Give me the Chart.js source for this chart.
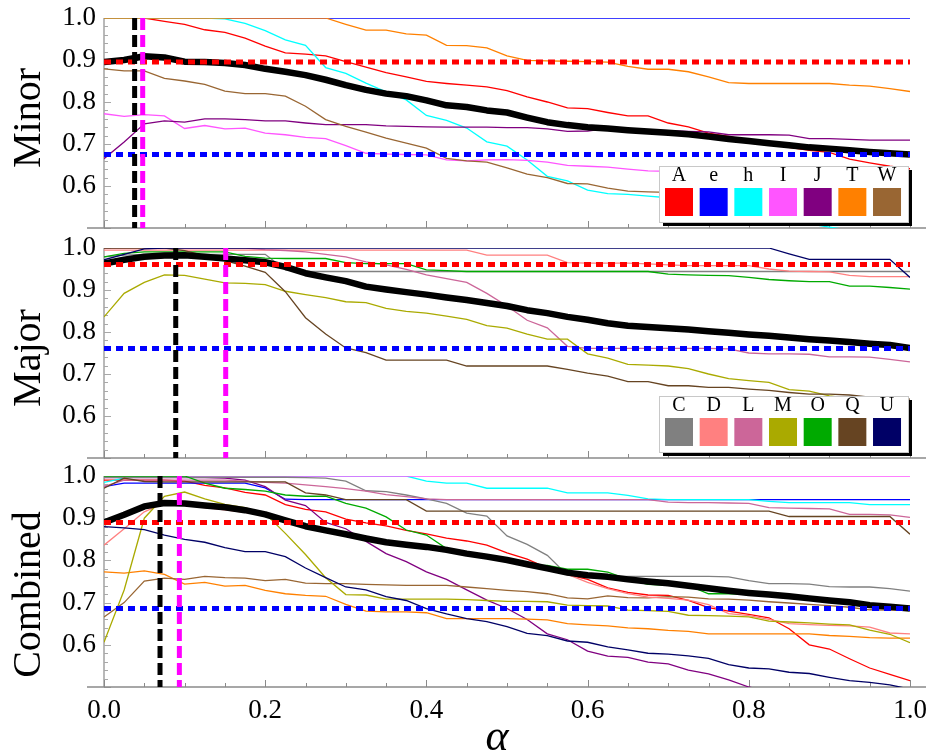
<!DOCTYPE html>
<html>
<head>
<meta charset="utf-8">
<script src="https://cdn.jsdelivr.net/npm/chart.js@4.4.0/dist/chart.umd.min.js"></script>
<style>
  body { margin: 0; background: #fff; width: 930px; height: 755px; position: relative; overflow: hidden; }
  canvas { position: absolute; left: 0; }
</style>
</head>
<body>
<canvas id="minorChart" width="930" height="238" style="top:0px"></canvas>
<canvas id="majorChart" width="930" height="238" style="top:230px"></canvas>
<canvas id="combinedChart" width="930" height="297" style="top:458px"></canvas>
<script>
// shared alpha grid
const alpha = [0, 0.025, 0.05, 0.075, 0.1, 0.125, 0.15, 0.175, 0.2, 0.225,
  0.25, 0.275, 0.3, 0.325, 0.35, 0.375, 0.4, 0.425, 0.45, 0.475,
  0.5, 0.525, 0.55, 0.575, 0.6, 0.625, 0.65, 0.675, 0.7, 0.725,
  0.75, 0.775, 0.8, 0.825, 0.85, 0.875, 0.9, 0.925, 0.95, 0.975, 1.0];

const xTickLabels = [0, 0.2, 0.4, 0.6, 0.8, 1.0];
const yTickLabels = [0.6, 0.7, 0.8, 0.9, 1.0];

const minorNames = ['A', 'e', 'h', 'I', 'J', 'T', 'W'];
const majorNames = ['C', 'D', 'L', 'M', 'O', 'Q', 'U'];

// ---- Minor ----
const minorA = [1.000, 1.000, 1.000, 0.992, 0.985, 0.972, 0.966, 0.952, 0.933, 0.917,
  0.914, 0.910, 0.896, 0.883, 0.870, 0.860, 0.849, 0.844, 0.840, 0.836,
  0.827, 0.812, 0.800, 0.786, 0.784, 0.775, 0.767, 0.767, 0.750, 0.741,
  0.726, 0.718, 0.708, 0.700, 0.692, 0.685, 0.680, 0.664, 0.655, 0.647, 0.641];
const minorE = [1, 1, 1, 1, 1, 1, 1, 1, 1, 1,
  1, 1, 1, 1, 1, 1, 1, 1, 1, 1,
  1, 1, 1, 1, 1, 1, 1, 1, 1, 1,
  1, 1, 1, 1, 1, 1, 1, 1, 1, 1, 1];
const minorH = [1, 1, 1, 1, 1, 1, 0.998, 0.987, 0.970, 0.948,
  0.935, 0.882, 0.868, 0.845, 0.824, 0.805, 0.768, 0.756, 0.738, 0.705,
  0.695, 0.662, 0.623, 0.612, 0.590, 0.582, 0.580, 0.576, 0.572, 0.565,
  0.555, 0.545, 0.538, 0.528, 0.518, 0.510, 0.502, 0.495, 0.490, 0.485, 0.480];
const minorI = [0.772, 0.766, 0.770, 0.767, 0.737, 0.744, 0.736, 0.738, 0.726, 0.722,
  0.716, 0.713, 0.696, 0.678, 0.676, 0.675, 0.674, 0.662, 0.660, 0.662,
  0.663, 0.661, 0.657, 0.649, 0.647, 0.645, 0.640, 0.636, 0.635, 0.633,
  0.630, 0.628, 0.626, 0.625, 0.623, 0.622, 0.620, 0.620, 0.618, 0.618, 0.617];
const minorJ = [0.665, 0.705, 0.748, 0.755, 0.752, 0.760, 0.760, 0.758, 0.755, 0.755,
  0.750, 0.746, 0.746, 0.746, 0.743, 0.742, 0.741, 0.740, 0.740, 0.740,
  0.739, 0.739, 0.736, 0.730, 0.731, 0.737, 0.735, 0.733, 0.732, 0.730,
  0.729, 0.722, 0.722, 0.722, 0.721, 0.713, 0.713, 0.711, 0.709, 0.709, 0.709];
const minorT = [1, 1, 1, 1, 1, 1, 1, 1, 1, 1,
  1, 1, 0.985, 0.971, 0.971, 0.962, 0.959, 0.935, 0.934, 0.929,
  0.910, 0.899, 0.898, 0.897, 0.896, 0.895, 0.885, 0.878, 0.878, 0.872,
  0.860, 0.846, 0.844, 0.844, 0.844, 0.844, 0.844, 0.840, 0.838, 0.832, 0.825];
const minorW = [0.879, 0.874, 0.874, 0.856, 0.850, 0.842, 0.826, 0.820, 0.820, 0.814,
  0.790, 0.758, 0.742, 0.728, 0.714, 0.702, 0.690, 0.666, 0.660, 0.657,
  0.643, 0.628, 0.620, 0.606, 0.605, 0.595, 0.588, 0.586, 0.585, 0.582,
  0.580, 0.578, 0.575, 0.572, 0.570, 0.568, 0.566, 0.565, 0.563, 0.560, 0.558];
const minorMean = [0.895, 0.900, 0.909, 0.906, 0.896, 0.895, 0.893, 0.888, 0.879, 0.872,
  0.864, 0.853, 0.840, 0.829, 0.820, 0.814, 0.804, 0.792, 0.788, 0.780,
  0.775, 0.763, 0.752, 0.745, 0.740, 0.737, 0.733, 0.730, 0.727, 0.723,
  0.718, 0.712, 0.707, 0.702, 0.697, 0.692, 0.689, 0.685, 0.681, 0.678, 0.675];

// ---- Major ----
const majorC = [0.979, 0.983, 0.985, 0.985, 0.985, 0.985, 0.985, 0.985, 0.985, 0.948,
  0.944, 0.944, 0.944, 0.944, 0.944, 0.944, 0.944, 0.944, 0.944, 0.944,
  0.944, 0.944, 0.944, 0.944, 0.944, 0.944, 0.944, 0.944, 0.944, 0.944,
  0.944, 0.944, 0.944, 0.944, 0.944, 0.944, 0.944, 0.944, 0.944, 0.944, 0.944];
const majorD = [0.995, 0.995, 0.995, 0.995, 0.995, 0.995, 0.995, 0.995, 0.995, 0.995,
  0.995, 0.995, 0.995, 0.995, 0.995, 0.995, 0.995, 0.995, 0.995, 0.983,
  0.983, 0.983, 0.983, 0.965, 0.964, 0.964, 0.964, 0.962, 0.960, 0.958,
  0.958, 0.958, 0.958, 0.950, 0.945, 0.944, 0.943, 0.935, 0.932, 0.932, 0.932];
const majorL = [1, 1, 1, 1, 1, 1, 1, 1, 0.996, 0.994,
  0.991, 0.985, 0.979, 0.967, 0.960, 0.949, 0.936, 0.927, 0.918, 0.892,
  0.862, 0.828, 0.810, 0.766, 0.761, 0.761, 0.761, 0.761, 0.761, 0.761,
  0.761, 0.760, 0.750, 0.748, 0.748, 0.747, 0.741, 0.741, 0.740, 0.735, 0.729];
const majorM = [0.836, 0.892, 0.918, 0.936, 0.935, 0.926, 0.917, 0.916, 0.913, 0.897,
  0.889, 0.882, 0.872, 0.870, 0.856, 0.849, 0.845, 0.838, 0.830, 0.815,
  0.809, 0.795, 0.783, 0.783, 0.748, 0.738, 0.723, 0.721, 0.719, 0.713,
  0.700, 0.689, 0.684, 0.680, 0.663, 0.659, 0.648, 0.642, 0.638, 0.634, 0.630];
const majorO = [0.979, 0.987, 0.991, 0.991, 0.991, 0.991, 0.991, 0.980, 0.976, 0.975,
  0.975, 0.975, 0.965, 0.963, 0.963, 0.963, 0.948, 0.946, 0.944, 0.944,
  0.944, 0.944, 0.944, 0.944, 0.944, 0.944, 0.944, 0.944, 0.938, 0.936,
  0.935, 0.934, 0.930, 0.925, 0.922, 0.920, 0.920, 0.909, 0.909, 0.906, 0.902];
const majorQ = [1, 1, 1, 1, 0.994, 0.982, 0.970, 0.957, 0.942, 0.896,
  0.834, 0.795, 0.762, 0.751, 0.733, 0.733, 0.733, 0.733, 0.719, 0.719,
  0.719, 0.719, 0.719, 0.711, 0.702, 0.695, 0.682, 0.682, 0.672, 0.672,
  0.668, 0.668, 0.664, 0.661, 0.656, 0.652, 0.652, 0.650, 0.645, 0.642, 0.640];
const majorU = [0.972, 0.985, 0.998, 1, 1, 1, 1, 1, 1, 1,
  1, 1, 1, 1, 1, 1, 1, 1, 1, 1,
  1, 1, 1, 1, 1, 1, 1, 1, 1, 1,
  1, 1, 1, 1, 0.986, 0.973, 0.973, 0.973, 0.973, 0.973, 0.930];
const majorMean = [0.963, 0.972, 0.979, 0.982, 0.983, 0.979, 0.975, 0.971, 0.966, 0.955,
  0.940, 0.930, 0.921, 0.908, 0.901, 0.895, 0.889, 0.882, 0.876, 0.869,
  0.862, 0.852, 0.845, 0.836, 0.829, 0.821, 0.815, 0.812, 0.809, 0.806,
  0.802, 0.798, 0.794, 0.791, 0.787, 0.783, 0.780, 0.776, 0.772, 0.769, 0.762];

// ---- Combined ----
const combA = [0.990, 0.990, 0.990, 0.990, 0.988, 0.978, 0.972, 0.961, 0.955, 0.932,
  0.921, 0.915, 0.898, 0.889, 0.882, 0.871, 0.863, 0.853, 0.846, 0.836,
  0.818, 0.803, 0.782, 0.766, 0.755, 0.735, 0.724, 0.718, 0.717, 0.705,
  0.688, 0.680, 0.672, 0.664, 0.638, 0.600, 0.590, 0.567, 0.545, 0.530, 0.515];
const combE = [0.975, 0.983, 0.983, 0.983, 0.983, 0.983, 0.983, 0.983, 0.972, 0.945,
  0.944, 0.944, 0.944, 0.944, 0.944, 0.944, 0.944, 0.944, 0.944, 0.944,
  0.944, 0.944, 0.944, 0.944, 0.944, 0.944, 0.944, 0.944, 0.944, 0.944,
  0.944, 0.944, 0.944, 0.944, 0.944, 0.944, 0.944, 0.944, 0.944, 0.944, 0.944];
const combH = [0.985, 0.995, 1, 1, 1, 1, 1, 1, 1, 1,
  1, 1, 1, 1, 1, 1, 0.988, 0.983, 0.983, 0.971,
  0.971, 0.971, 0.971, 0.960, 0.960, 0.960, 0.954, 0.946, 0.944, 0.944,
  0.944, 0.944, 0.944, 0.940, 0.937, 0.937, 0.937, 0.937, 0.932, 0.932, 0.932];
const combI = [1, 1, 1, 1, 1, 1, 1, 1, 1, 1,
  1, 1, 1, 1, 1, 1, 1, 1, 1, 1,
  1, 1, 1, 1, 1, 1, 1, 1, 1, 1,
  1, 1, 1, 1, 1, 1, 1, 1, 1, 1, 1];
const combJ = [0.996, 0.996, 0.996, 0.996, 0.996, 0.996, 0.995, 0.990, 0.975, 0.943,
  0.930, 0.890, 0.875, 0.845, 0.816, 0.797, 0.773, 0.755, 0.730, 0.706,
  0.686, 0.660, 0.626, 0.612, 0.585, 0.573, 0.570, 0.559, 0.555, 0.540,
  0.531, 0.517, 0.500, 0.490, 0.480, 0.470, 0.460, 0.450, 0.440, 0.430, 0.420];
const combT = [0.773, 0.770, 0.775, 0.767, 0.744, 0.748, 0.739, 0.741, 0.729, 0.721,
  0.717, 0.715, 0.696, 0.680, 0.678, 0.678, 0.676, 0.662, 0.662, 0.662,
  0.662, 0.661, 0.659, 0.650, 0.647, 0.645, 0.640, 0.638, 0.634, 0.632,
  0.626, 0.626, 0.626, 0.626, 0.626, 0.626, 0.622, 0.620, 0.617, 0.616, 0.616];
const combW = [0.666, 0.700, 0.751, 0.758, 0.755, 0.762, 0.759, 0.758, 0.752, 0.755,
  0.746, 0.745, 0.745, 0.743, 0.742, 0.741, 0.741, 0.741, 0.737, 0.733,
  0.729, 0.726, 0.721, 0.711, 0.709, 0.716, 0.712, 0.711, 0.714, 0.713,
  0.709, 0.708, 0.706, 0.702, 0.699, 0.696, 0.693, 0.689, 0.683, 0.682, 0.682];
const combC = [0.997, 0.997, 0.997, 0.997, 0.997, 0.997, 0.997, 0.997, 0.997, 0.997,
  0.996, 0.995, 0.988, 0.965, 0.963, 0.955, 0.946, 0.935, 0.912, 0.905,
  0.858, 0.838, 0.812, 0.765, 0.763, 0.762, 0.762, 0.762, 0.762, 0.762,
  0.762, 0.761, 0.752, 0.745, 0.745, 0.744, 0.738, 0.737, 0.737, 0.733, 0.727];
const combD = [0.836, 0.875, 0.915, 0.936, 0.932, 0.925, 0.920, 0.914, 0.908, 0.891,
  0.883, 0.873, 0.860, 0.852, 0.845, 0.838, 0.832, 0.824, 0.813, 0.806,
  0.797, 0.785, 0.780, 0.767, 0.748, 0.733, 0.721, 0.713, 0.710, 0.706,
  0.695, 0.674, 0.669, 0.660, 0.650, 0.648, 0.646, 0.645, 0.642, 0.628, 0.626];
const combL = [0.975, 0.990, 0.990, 0.990, 0.990, 0.990, 0.990, 0.988, 0.985, 0.983,
  0.979, 0.975, 0.970, 0.964, 0.956, 0.951, 0.946, 0.944, 0.944, 0.944,
  0.944, 0.944, 0.944, 0.944, 0.944, 0.944, 0.944, 0.944, 0.938, 0.937,
  0.937, 0.936, 0.935, 0.925, 0.924, 0.923, 0.922, 0.909, 0.909, 0.908, 0.902];
const combM = [0.606, 0.730, 0.900, 0.952, 0.962, 0.946, 0.933, 0.925, 0.911, 0.864,
  0.814, 0.759, 0.719, 0.718, 0.708, 0.708, 0.708, 0.708, 0.707, 0.705,
  0.703, 0.703, 0.702, 0.694, 0.693, 0.692, 0.682, 0.681, 0.679, 0.670,
  0.669, 0.668, 0.666, 0.656, 0.654, 0.652, 0.649, 0.647, 0.635, 0.625, 0.605];
const combO = [1, 1, 1, 1, 1, 0.983, 0.971, 0.968, 0.964, 0.955,
  0.952, 0.952, 0.935, 0.924, 0.903, 0.872, 0.860, 0.828, 0.818, 0.806,
  0.803, 0.789, 0.788, 0.779, 0.779, 0.772, 0.755, 0.743, 0.741, 0.741,
  0.721, 0.721, 0.720, 0.719, 0.718, 0.706, 0.703, 0.699, 0.697, 0.688, 0.686];
const combQ = [0.971, 0.995, 0.987, 0.986, 0.986, 0.986, 0.986, 0.986, 0.986, 0.986,
  0.960, 0.955, 0.944, 0.944, 0.944, 0.944, 0.917, 0.917, 0.917, 0.917,
  0.917, 0.917, 0.917, 0.917, 0.917, 0.917, 0.917, 0.917, 0.917, 0.917,
  0.917, 0.917, 0.917, 0.917, 0.904, 0.904, 0.904, 0.904, 0.904, 0.904, 0.862];
const combU = [0.880, 0.877, 0.873, 0.860, 0.850, 0.843, 0.830, 0.821, 0.821, 0.809,
  0.782, 0.759, 0.737, 0.730, 0.714, 0.705, 0.686, 0.673, 0.662, 0.655,
  0.643, 0.627, 0.622, 0.609, 0.606, 0.595, 0.588, 0.580, 0.578, 0.574,
  0.568, 0.553, 0.545, 0.543, 0.535, 0.532, 0.523, 0.515, 0.511, 0.505, 0.495];
const combMean = [0.890, 0.908, 0.928, 0.936, 0.935, 0.930, 0.926, 0.919, 0.909, 0.895,
  0.881, 0.871, 0.862, 0.852, 0.843, 0.837, 0.832, 0.825, 0.816, 0.809,
  0.801, 0.791, 0.781, 0.771, 0.765, 0.761, 0.755, 0.750, 0.746, 0.740,
  0.734, 0.728, 0.723, 0.719, 0.715, 0.710, 0.705, 0.701, 0.694, 0.690, 0.686];

// reference levels and marked alphas, one per panel (Minor, Major, Combined)
const upperLevel = [0.895, 0.961, 0.890];
const lowerLevel = [0.675, 0.761, 0.686];
const bestAlpha = [0.038, 0.089, 0.0695];
const pickedAlpha = [0.048, 0.151, 0.0935];

const colors = {
  A: '#ff0000', e: '#0000ff', h: '#00ffff', I: '#ff55ff', J: '#800080', T: '#ff8000', W: '#996633',
  C: '#808080', D: '#ff8080', L: '#cc6699', M: '#aaaa00', O: '#00aa00', Q: '#664422', U: '#000066'
};

const SERIF = '"Liberation Serif", "DejaVu Serif", serif';
Chart.defaults.font.family = SERIF;

const panels = [
  {
    id: 'minorChart', title: 'Minor', titleShift: -5, showX: false, legend: minorNames,
    lines: [['A', minorA], ['e', minorE], ['h', minorH], ['I', minorI], ['J', minorJ], ['T', minorT], ['W', minorW]],
    mean: minorMean
  },
  {
    id: 'majorChart', title: 'Major', titleShift: 5, showX: false, legend: majorNames,
    lines: [['C', majorC], ['D', majorD], ['L', majorL], ['M', majorM], ['O', majorO], ['Q', majorQ], ['U', majorU]],
    mean: majorMean
  },
  {
    id: 'combinedChart', title: 'Combined', titleShift: 13, showX: true, legend: null,
    lines: [['A', combA], ['e', combE], ['h', combH], ['I', combI], ['J', combJ], ['T', combT], ['W', combW],
      ['C', combC], ['D', combD], ['L', combL], ['M', combM], ['O', combO], ['Q', combQ], ['U', combU]],
    mean: combMean
  }
];

function toPoints(values) {
  return values.map((v, i) => ({ x: alpha[i], y: v }));
}

// axis lines with inward ticks, rotated panel title, legend box
const panelDecor = {
  id: 'panelDecor',
  beforeDatasetsDraw(chart, args, opts) {
    const { ctx, chartArea: a, scales: { x, y } } = chart;
    ctx.save();
    ctx.strokeStyle = '#a8a8a8';
    ctx.lineWidth = 1.6;
    ctx.beginPath();
    ctx.moveTo(a.left, a.top);
    ctx.lineTo(a.left, a.bottom);
    ctx.stroke();
    for (let i = 0; i <= 25; i++) {
      const py = Math.round(y.getPixelForValue(0.5 + i * 0.02)) + 0.5;
      const len = i % 5 === 0 ? 7 : 4;
      ctx.lineWidth = 1;
      ctx.beginPath();
      ctx.moveTo(a.left, py);
      ctx.lineTo(a.left + len, py);
      ctx.stroke();
    }
    ctx.strokeStyle = '#8a8a8a';
    ctx.lineWidth = 1.3;
    ctx.beginPath();
    ctx.moveTo(a.left - 17, a.bottom);
    ctx.lineTo(a.right + 16, a.bottom);
    ctx.stroke();
    for (let i = 0; i <= 20; i++) {
      const px = Math.round(x.getPixelForValue(i * 0.05)) + 0.5;
      const len = i % 4 === 0 ? 7 : 4;
      ctx.lineWidth = 1;
      ctx.beginPath();
      ctx.moveTo(px, a.bottom);
      ctx.lineTo(px, a.bottom - len);
      ctx.stroke();
    }
    ctx.restore();
  },
  afterDraw(chart, args, opts) {
    const { ctx, chartArea: a } = chart;
    ctx.save();
    ctx.fillStyle = '#000';
    ctx.font = '40px ' + SERIF;
    ctx.textAlign = 'center';
    ctx.textBaseline = 'middle';
    ctx.translate(29, (a.top + a.bottom) / 2 + opts.titleShift);
    ctx.rotate(-Math.PI / 2);
    ctx.fillText(opts.title, 0, 0);
    ctx.restore();

    if (opts.legend) {
      const bw = 249, bh = 56;
      const bl = a.right - 251, bt = a.bottom - 62;
      ctx.save();
      ctx.fillStyle = '#000';
      ctx.fillRect(bl + 4, bt + 4, bw, bh);
      ctx.fillStyle = '#fff';
      ctx.fillRect(bl, bt, bw, bh);
      ctx.strokeStyle = '#c8c8c8';
      ctx.lineWidth = 1;
      ctx.strokeRect(bl + 0.5, bt + 0.5, bw, bh);
      ctx.font = '20px ' + SERIF;
      ctx.textAlign = 'center';
      ctx.textBaseline = 'middle';
      opts.legend.forEach((name, i) => {
        const sx = bl + 6 + i * 34.67;
        ctx.fillStyle = colors[name];
        ctx.fillRect(sx, bt + 22, 28, 28);
        ctx.fillStyle = '#000';
        ctx.fillText(name, sx + 14, bt + 10);
      });
      ctx.restore();
    }

    if (opts.axisTitle) {
      ctx.save();
      ctx.fillStyle = '#000';
      ctx.font = 'italic 44px ' + SERIF;
      ctx.textAlign = 'center';
      ctx.textBaseline = 'alphabetic';
      ctx.fillText(opts.axisTitle, (a.left + a.right) / 2 - 10, chart.height - 5);
      ctx.restore();
    }
  }
};

panels.forEach((p, k) => {
  // bottom-to-top drawing list
  const layers = [];
  p.lines.forEach(([name, values]) => {
    layers.push({ label: name, data: toPoints(values), borderColor: colors[name], borderWidth: 1.3 });
  });
  layers.push({ label: 'mean', data: toPoints(p.mean), borderColor: '#000', borderWidth: 6.5, borderJoinStyle: 'round' });
  layers.push({ label: 'upper', data: [{ x: 0, y: upperLevel[k] }, { x: 1, y: upperLevel[k] }],
    borderColor: '#ff0000', borderWidth: 5, borderDash: [7, 5] });
  layers.push({ label: 'lower', data: [{ x: 0, y: lowerLevel[k] }, { x: 1, y: lowerLevel[k] }],
    borderColor: '#0000ff', borderWidth: 5, borderDash: [7, 5] });
  layers.push({ label: 'best', data: [{ x: bestAlpha[k], y: 1.0 }, { x: bestAlpha[k], y: 0.5 }],
    borderColor: '#000', borderWidth: 5, borderDash: [12, 5] });
  layers.push({ label: 'picked', data: [{ x: pickedAlpha[k], y: 1.0 }, { x: pickedAlpha[k], y: 0.5 }],
    borderColor: '#ff00ff', borderWidth: 5, borderDash: [12, 5] });

  const n = layers.length;
  const datasets = layers.map((d, i) => Object.assign({
    pointRadius: 0, fill: false, tension: 0, order: n - i
  }, d));

  new Chart(document.getElementById(p.id), {
    type: 'line',
    data: { datasets },
    plugins: [panelDecor],
    options: {
      responsive: false,
      animation: false,
      devicePixelRatio: 1,
      layout: { padding: { top: 18, right: 20, bottom: p.showX ? 0 : 10, left: 0 } },
      plugins: {
        legend: { display: false },
        tooltip: { enabled: false },
        panelDecor: { title: p.title, titleShift: p.titleShift, legend: p.legend, axisTitle: p.showX ? 'α' : null }
      },
      scales: {
        x: {
          type: 'linear', min: 0, max: 1,
          display: p.showX,
          grid: { display: false, drawTicks: false },
          border: { display: false },
          afterBuildTicks: s => { s.ticks = xTickLabels.map(v => ({ value: v })); },
          afterFit: s => { s.height = p.showX ? 68 : 0; s.paddingLeft = 0; s.paddingRight = 0; },
          ticks: {
            padding: 8, color: '#000', maxRotation: 0, autoSkip: false,
            font: { family: SERIF, size: 27 },
            callback: v => Number(v).toFixed(1)
          }
        },
        y: {
          type: 'linear', min: 0.5, max: 1.0,
          grid: { display: false, drawTicks: false },
          border: { display: false },
          afterBuildTicks: s => { s.ticks = yTickLabels.map(v => ({ value: v })); },
          afterFit: s => { s.width = 104; s.paddingTop = 0; s.paddingBottom = 0; },
          ticks: {
            padding: 8, color: '#000', autoSkip: false,
            font: { family: SERIF, size: 27 },
            callback: v => Number(v).toFixed(1)
          }
        }
      }
    }
  });
});
</script>
</body>
</html>
